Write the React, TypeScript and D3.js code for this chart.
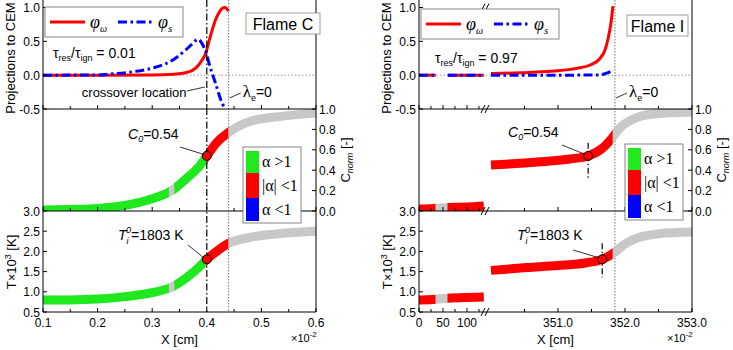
import React from 'react';
import * as d3 from 'd3';

// ---------- Flame C (x in 1e-2 cm) ----------
const flameCPhiWX = [0.1, 0.2, 0.3, 0.34, 0.361, 0.379, 0.385, 0.391, 0.398, 0.404, 0.41, 0.416, 0.422, 0.428, 0.433, 0.44];
const flameCPhiWY = [0, 0, 0.003, 0.015, 0.035, 0.1, 0.15, 0.22, 0.32, 0.5, 0.67, 0.82, 0.92, 0.985, 1.0, 0.945];
const flameCPhiSX = [0.1, 0.2, 0.222, 0.264, 0.307, 0.337, 0.361, 0.373, 0.384, 0.391, 0.398, 0.406, 0.416, 0.425, 0.433];
const flameCPhiSY = [0, 0.003, 0.015, 0.05, 0.12, 0.22, 0.37, 0.46, 0.53, 0.47, 0.35, 0.12, -0.12, -0.35, -0.5];
const flameCX = [0.1, 0.15, 0.2, 0.25, 0.3, 0.336, 0.363, 0.385, 0.4, 0.418, 0.44, 0.48, 0.54, 0.6];
const flameCCnorm = [0.01, 0.015, 0.025, 0.055, 0.12, 0.2, 0.32, 0.43, 0.54, 0.67, 0.77, 0.88, 0.93, 0.96];
const flameCTemp = [0.8, 0.8, 0.82, 0.88, 0.98, 1.12, 1.35, 1.6, 1.803, 2.0, 2.2, 2.35, 2.45, 2.5];
const flameCRegionEdges = [0.1, 0.331, 0.341, 0.4, 0.44, 0.6];
const flameCRegionKinds = ['pos', 'none', 'pos', 'mid', 'none'];
const flameCTicks = [0.1, 0.2, 0.3, 0.4, 0.5, 0.6];
const flameCTickLabels = ['0.1', '0.2', '0.3', '0.4', '0.5', '0.6'];
const flameCMinor = [0.15, 0.25, 0.35, 0.45, 0.55];

// ---------- Flame I (broken x axis) ----------
const flameIPhiWX = [[0, 35], [60, 135], [350, 350.43, 350.93, 351.28, 351.48, 351.63, 351.7, 351.75, 351.79, 351.82]];
const flameIPhiWY = [[0, 0], [0, 0], [0.025, 0.035, 0.06, 0.1, 0.15, 0.25, 0.37, 0.55, 0.77, 1.02]];
const flameIPhiSX = [[0, 35], [60, 135], [350, 351.0, 351.6, 351.7, 351.8]];
const flameIPhiSY = [[0, 0], [0, 0], [0, 0, 0.003, 0.02, 0.06]];
const flameICX = [[0, 30, 60, 100, 135], [350, 350.69, 351.18, 351.45, 351.67, 351.8, 351.93, 352.12, 352.42, 353]];
const flameICnorm = [[0.02, 0.025, 0.035, 0.04, 0.05], [0.45, 0.48, 0.51, 0.54, 0.62, 0.71, 0.82, 0.9, 0.95, 0.97]];
const flameITX = [[0, 30, 60, 100, 135], [350, 350.54, 351.0, 351.43, 351.66, 351.85, 351.97, 352.18, 352.52, 353]];
const flameITemp = [[0.8, 0.81, 0.84, 0.86, 0.87], [1.53, 1.6, 1.65, 1.72, 1.803, 1.98, 2.15, 2.33, 2.44, 2.48]];
const flameIRegionEdges = [0, 35, 60, 350, 351.82, 353];
const flameIRegionKinds = ['mid', 'none', 'mid', 'mid', 'none'];
const flameITicks = [0, 50, 100, 351, 352, 353];
const flameITickLabels = ['0', '50', '100', '351.0', '352.0', '353.0'];
const flameIMinor = [25, 75, 125, 350.5, 351.5, 352.5];

// shared y ticks
const phiTicks = [-0.5, 0, 0.5, 1.0];
const cnormTicks = [0, 0.2, 0.4, 0.6, 0.8, 1.0];
const tempTicks = [0.5, 1.0, 1.5, 2.0, 2.5, 3.0];

const SANS = "'Liberation Sans', Arial, Helvetica, sans-serif";
const SERIF = "'Liberation Serif', 'Times New Roman', serif";

const REGION_COLOR: Record<string, string> = {
  pos: '#1fe81f',
  mid: '#ff0000',
  neg: '#0000ff',
  none: '#c8c8c8',
};

const Y_PHI = 109;
const Y_C = 211;
const Y_T = 312;

const yPhi = d3.scaleLinear().domain([-0.5, 1]).range([Y_PHI, 7.5]);
const yC = d3.scaleLinear().domain([0, 1]).range([Y_C, Y_PHI]);
const yT = d3.scaleLinear().domain([0.5, 3]).range([Y_T, Y_C]);

const xFlameC = d3.scaleLinear().domain([0.1, 0.6]).range([43, 316]);
const xFlameI = d3.scaleLinear().domain([0, 137.5, 350, 353]).range([419, 485, 491, 692]);

type Series = { x: number[][]; y: number[][] };
type Scale = d3.ScaleLinear<number, number>;

interface Anno {
  legend: [number, number];
  tau: [number, number];
  flameBox: [number, number, number];
  c0Text: [number, number];
  c0Lead: [number, number];
  tText: [number, number];
  tLead: [number, number];
  alphaLegend: [number, number];
}

interface FlameProps {
  id: string;
  xs: Scale;
  ticks: number[];
  tickLabels: string[];
  minor: number[];
  phiW: Series;
  phiS: Series;
  cnorm: Series;
  temp: Series;
  regionEdges: number[];
  regionKinds: string[];
  name: string;
  tau: string;
  lambdaX: number;
  cMarkX: number;
  tMarkX: number;
  c0: number;
  ti0: number;
  fullCrossover: boolean;
  breakAt?: number;
  anno: Anno;
}

function Band({ id, xs, ys, s, edges, kinds, clip }: {
  id: string; xs: Scale; ys: Scale; s: Series; edges: number[]; kinds: string[]; clip: string;
}) {
  const line = d3.line<[number, number]>().x(d => xs(d[0])).y(d => ys(d[1])).curve(d3.curveMonotoneX);
  const paths = s.x.map((xa, i) => line(xa.map((x, j) => [x, s.y[i][j]] as [number, number])) ?? '');
  return (
    <g clipPath={`url(#${clip})`}>
      <defs>
        {kinds.map((k, i) => (
          <clipPath id={`${id}-r${i}`} key={i}>
            <rect x={xs(edges[i]) - 0.3} y={0} width={xs(edges[i + 1]) - xs(edges[i]) + 0.6} height={350} />
          </clipPath>
        ))}
      </defs>
      {kinds.map((k, i) => (
        <g key={i} clipPath={`url(#${id}-r${i})`}>
          {paths.map((d, j) => (
            <path key={j} d={d} fill="none" stroke={REGION_COLOR[k]} strokeWidth={9} />
          ))}
        </g>
      ))}
    </g>
  );
}

function FlameChart(p: FlameProps) {
  const { xs, anno } = p;
  const range = xs.range();
  const xL = range[0];
  const xR = range[range.length - 1];
  const phiLine = d3.line<[number, number]>().x(d => xs(d[0])).y(d => yPhi(d[1])).curve(d3.curveMonotoneX);
  const phiPaths = (s: Series) => s.x.map((xa, i) => phiLine(xa.map((x, j) => [x, s.y[i][j]] as [number, number])) ?? '');
  const lx = xs(p.lambdaX);
  const cx = xs(p.cMarkX);
  const tx = xs(p.tMarkX);
  const [lgx, lgy] = anno.legend;
  const [abx, aby] = anno.alphaLegend;
  const [fbx, fby, fbw] = anno.flameBox;

  return (
    <g fontFamily={SANS}>
      <defs>
        <clipPath id={`${p.id}-top`}><rect x={xL} y={0} width={xR - xL} height={Y_PHI} /></clipPath>
        <clipPath id={`${p.id}-mid`}><rect x={xL} y={Y_PHI} width={xR - xL} height={Y_C - Y_PHI} /></clipPath>
        <clipPath id={`${p.id}-bot`}><rect x={xL} y={Y_C} width={xR - xL} height={Y_T - Y_C} /></clipPath>
      </defs>

      {/* zero line of the projection panel */}
      <line x1={xL} x2={xR} y1={yPhi(0)} y2={yPhi(0)} stroke="#777" strokeWidth={0.8} strokeDasharray="1.5,2" />

      {/* lambda_e = 0 location */}
      <line x1={lx} x2={lx} y1={0} y2={Y_T} stroke="#666" strokeWidth={0.9} strokeDasharray="1.5,1.5" />

      {/* colored C_norm and T profiles */}
      <Band id={`${p.id}-c`} xs={xs} ys={yC} s={p.cnorm} edges={p.regionEdges} kinds={p.regionKinds} clip={`${p.id}-mid`} />
      <Band id={`${p.id}-t`} xs={xs} ys={yT} s={p.temp} edges={p.regionEdges} kinds={p.regionKinds} clip={`${p.id}-bot`} />

      {/* projections */}
      <g clipPath={`url(#${p.id}-top)`}>
        {phiPaths(p.phiW).map((d, i) => (
          <path key={`w${i}`} d={d} fill="none" stroke="#ff0000" strokeWidth={3} />
        ))}
        {phiPaths(p.phiS).map((d, i) => (
          <path key={`s${i}`} d={d} fill="none" stroke="#0000ff" strokeWidth={3} strokeDasharray="9,3.5,2.5,3.5" />
        ))}
      </g>

      {/* crossover markers */}
      {p.fullCrossover ? (
        <line x1={cx} x2={cx} y1={0} y2={Y_T} stroke="#000" strokeWidth={1.2} strokeDasharray="7,2.5,1.5,2.5" />
      ) : (
        <g stroke="#000" strokeWidth={1.2} strokeDasharray="6,2.5,1.5,2.5">
          <line x1={cx} x2={cx} y1={yC(p.c0 + 0.13)} y2={yC(p.c0 - 0.22)} />
          <line x1={tx} x2={tx} y1={yT(p.ti0 + 0.4)} y2={yT(p.ti0 - 0.45)} />
        </g>
      )}
      <circle cx={cx} cy={yC(p.c0)} r={4.5} fill="#ff0000" stroke="#000" strokeWidth={1} />
      <circle cx={tx} cy={yT(p.ti0)} r={4.5} fill="#ff0000" stroke="#000" strokeWidth={1} />

      {/* frame */}
      <g stroke="#000" strokeWidth={1}>
        <line x1={xL} x2={xL} y1={0} y2={Y_T} />
        <line x1={xR} x2={xR} y1={0} y2={Y_T} />
        {[Y_PHI, Y_C, Y_T].map(y => <line key={y} x1={xL} x2={xR} y1={y} y2={y} />)}
        {[Y_PHI, Y_C, Y_T].map(y => (
          <g key={`t${y}`}>
            {p.ticks.map(t => <line key={t} x1={xs(t)} x2={xs(t)} y1={y} y2={y - 4} />)}
            {p.minor.map(t => <line key={t} x1={xs(t)} x2={xs(t)} y1={y} y2={y - 3} />)}
          </g>
        ))}
        {phiTicks.map(t => <line key={`p${t}`} x1={xL} x2={xL + 4} y1={yPhi(t)} y2={yPhi(t)} />)}
        {tempTicks.map(t => <line key={`T${t}`} x1={xL} x2={xL + 4} y1={yT(t)} y2={yT(t)} />)}
        {cnormTicks.map(t => <line key={`c${t}`} x1={xR - 4} x2={xR} y1={yC(t)} y2={yC(t)} />)}
      </g>

      {/* axis break */}
      {p.breakAt !== undefined && (
        <g stroke="#000" strokeWidth={1}>
          {[7.5, Y_PHI, Y_C, Y_T].map(y => (
            <g key={y}>
              <line x1={xs(p.breakAt!) - 4} y1={y + 4} x2={xs(p.breakAt!)} y2={y - 4} />
              <line x1={xs(p.breakAt!)} y1={y + 4} x2={xs(p.breakAt!) + 4} y2={y - 4} />
            </g>
          ))}
        </g>
      )}

      {/* tick labels */}
      <g fontSize={12} fill="#000">
        {phiTicks.map(t => (
          <text key={`p${t}`} x={xL - 3} y={yPhi(t) + 4.5} textAnchor="end">{t.toFixed(1)}</text>
        ))}
        {tempTicks.map(t => (
          <text key={`T${t}`} x={xL - 3} y={yT(t) + 4.5} textAnchor="end">{t.toFixed(1)}</text>
        ))}
        {cnormTicks.map(t => (
          <text key={`c${t}`} x={xR + 3} y={yC(t) + 4.5}>{t.toFixed(1)}</text>
        ))}
        {p.ticks.map((t, i) => (
          <text key={`x${t}`} x={xs(t)} y={Y_T + 15} textAnchor="middle">{p.tickLabels[i]}</text>
        ))}
      </g>

      {/* axis titles */}
      <text transform={`translate(${xL - 28},58) rotate(-90)`} textAnchor="middle" fontSize={13}>Projections to CEM</text>
      <text transform={`translate(${xL - 27},262) rotate(-90)`} textAnchor="middle" fontSize={13}>
        T×10<tspan fontSize={9} dy={-5}>3</tspan><tspan dy={5}> [K]</tspan>
      </text>
      <text transform={`translate(${xR + 34},160) rotate(-90)`} textAnchor="middle" fontSize={13}>
        C<tspan fontSize={9} fontStyle="italic" dy={3}>norm</tspan><tspan dy={-3}> [-]</tspan>
      </text>
      <text x={(xL + xR) / 2} y={344} textAnchor="middle" fontSize={13}>X [cm]</text>
      <text x={xR - 25} y={342} fontSize={11}>×10<tspan fontSize={8} dy={-5}>-2</tspan></text>

      {/* phi legend */}
      <rect x={lgx} y={lgy} width={138} height={30} fill="#fff" stroke="#666" strokeWidth={0.8} />
      <line x1={lgx + 5} x2={lgx + 40} y1={lgy + 15} y2={lgy + 15} stroke="#ff0000" strokeWidth={3} />
      <text x={lgx + 45} y={lgy + 21} fontFamily={SERIF} fontStyle="italic" fontSize={18}>
        φ<tspan fontSize={10} dy={4}>ω</tspan>
      </text>
      <line x1={lgx + 73} x2={lgx + 108} y1={lgy + 15} y2={lgy + 15} stroke="#0000ff" strokeWidth={3} strokeDasharray="9,3.5,2.5,3.5" />
      <text x={lgx + 113} y={lgy + 21} fontFamily={SERIF} fontStyle="italic" fontSize={18}>
        φ<tspan fontSize={11} dy={4}>s</tspan>
      </text>

      {/* flame name */}
      <rect x={fbx} y={fby} width={fbw} height={21} fill="#fff" stroke="#888" strokeWidth={0.8} />
      <text x={fbx + fbw / 2} y={fby + 17} textAnchor="middle" fontSize={16}>{p.name}</text>

      {/* residence / ignition time ratio */}
      <text x={anno.tau[0]} y={anno.tau[1]} fontSize={14}>
        τ<tspan fontSize={9} dy={3}>res</tspan><tspan dy={-3}>/τ</tspan>
        <tspan fontSize={9} dy={3}>ign</tspan><tspan dy={-3}>{` = ${p.tau}`}</tspan>
      </text>

      {/* crossover annotation */}
      {p.fullCrossover && (
        <g>
          <text x={cx - 125} y={97} fontSize={13}>crossover location</text>
          <line x1={cx - 20} y1={91} x2={cx - 2} y2={87} stroke="#000" strokeWidth={0.8} />
        </g>
      )}
      <line x1={lx + 1} y1={98} x2={lx + 12} y2={93} stroke="#000" strokeWidth={0.8} />
      <text x={lx + 14} y={97} fontSize={14}>
        <tspan fontFamily={SERIF} fontSize={17}>λ</tspan><tspan fontSize={9} dy={4}>e</tspan><tspan dy={-4}>=0</tspan>
      </text>

      {/* C0 and Ti0 labels */}
      <text x={anno.c0Text[0]} y={anno.c0Text[1]} fontSize={14}>
        <tspan fontStyle="italic">C</tspan><tspan fontSize={9} fontStyle="italic" dy={3}>0</tspan>
        <tspan dy={-3}>{`=${p.c0.toFixed(2)}`}</tspan>
      </text>
      <line x1={anno.c0Lead[0]} y1={anno.c0Lead[1]} x2={cx - 3} y2={yC(p.c0) - 1.5} stroke="#000" strokeWidth={0.8} />
      <text x={anno.tText[0]} y={anno.tText[1]} fontSize={14}>
        <tspan fontStyle="italic">T</tspan><tspan fontSize={9} fontStyle="italic" dy={4}>i</tspan>
        <tspan fontSize={9} fontStyle="italic" dx={-2.5} dy={-11}>0</tspan>
        <tspan dy={7}>{`=${Math.round(p.ti0 * 1000)} K`}</tspan>
      </text>
      <line x1={anno.tLead[0]} y1={anno.tLead[1]} x2={tx - 3} y2={yT(p.ti0) - 1.5} stroke="#000" strokeWidth={0.8} />

      {/* alpha legend */}
      <rect x={abx} y={aby} width={58} height={76} fill="#fff" stroke="#666" strokeWidth={0.8} />
      <rect x={abx + 3} y={aby + 4} width={13} height={22} fill={REGION_COLOR.pos} />
      <rect x={abx + 3} y={aby + 26} width={13} height={25} fill={REGION_COLOR.mid} />
      <rect x={abx + 3} y={aby + 51} width={13} height={23} fill={REGION_COLOR.neg} />
      <text x={abx + 19} y={aby + 20} fontFamily={SERIF} fontSize={16}>α &gt;1</text>
      <text x={abx + 19} y={aby + 44} fontFamily={SERIF} fontSize={16}>|α| &lt;1</text>
      <text x={abx + 19} y={aby + 68} fontFamily={SERIF} fontSize={16}>α &lt;1</text>
    </g>
  );
}

export default function App() {
  return (
    <div style={{ position: 'absolute', left: 0, top: 0 }}>
      <svg width={733} height={350} style={{ display: 'block', background: '#fff' }}>
        <FlameChart
          id="fc"
          xs={xFlameC}
          ticks={flameCTicks}
          tickLabels={flameCTickLabels}
          minor={flameCMinor}
          phiW={{ x: [flameCPhiWX], y: [flameCPhiWY] }}
          phiS={{ x: [flameCPhiSX], y: [flameCPhiSY] }}
          cnorm={{ x: [flameCX], y: [flameCCnorm] }}
          temp={{ x: [flameCX], y: [flameCTemp] }}
          regionEdges={flameCRegionEdges}
          regionKinds={flameCRegionKinds}
          name="Flame C"
          tau="0.01"
          lambdaX={0.44}
          cMarkX={0.4}
          tMarkX={0.4}
          c0={0.54}
          ti0={1.803}
          fullCrossover
          anno={{
            legend: [45, 7],
            tau: [53, 58],
            flameBox: [246, 13, 74],
            c0Text: [128, 139],
            c0Lead: [180, 147],
            tText: [118, 240],
            tLead: [188, 245],
            alphaLegend: [243, 147],
          }}
        />
        <FlameChart
          id="fi"
          xs={xFlameI}
          ticks={flameITicks}
          tickLabels={flameITickLabels}
          minor={flameIMinor}
          phiW={{ x: flameIPhiWX, y: flameIPhiWY }}
          phiS={{ x: flameIPhiSX, y: flameIPhiSY }}
          cnorm={{ x: flameICX, y: flameICnorm }}
          temp={{ x: flameITX, y: flameITemp }}
          regionEdges={flameIRegionEdges}
          regionKinds={flameIRegionKinds}
          name="Flame I"
          tau="0.97"
          lambdaX={351.85}
          cMarkX={351.45}
          tMarkX={351.66}
          c0={0.54}
          ti0={1.803}
          fullCrossover={false}
          breakAt={137.5}
          anno={{
            legend: [421, 9],
            tau: [435, 63],
            flameBox: [627, 15, 61],
            c0Text: [508, 137],
            c0Lead: [562, 145],
            tText: [517, 240],
            tLead: [573, 250],
            alphaLegend: [625, 144],
          }}
        />
      </svg>
    </div>
  );
}
